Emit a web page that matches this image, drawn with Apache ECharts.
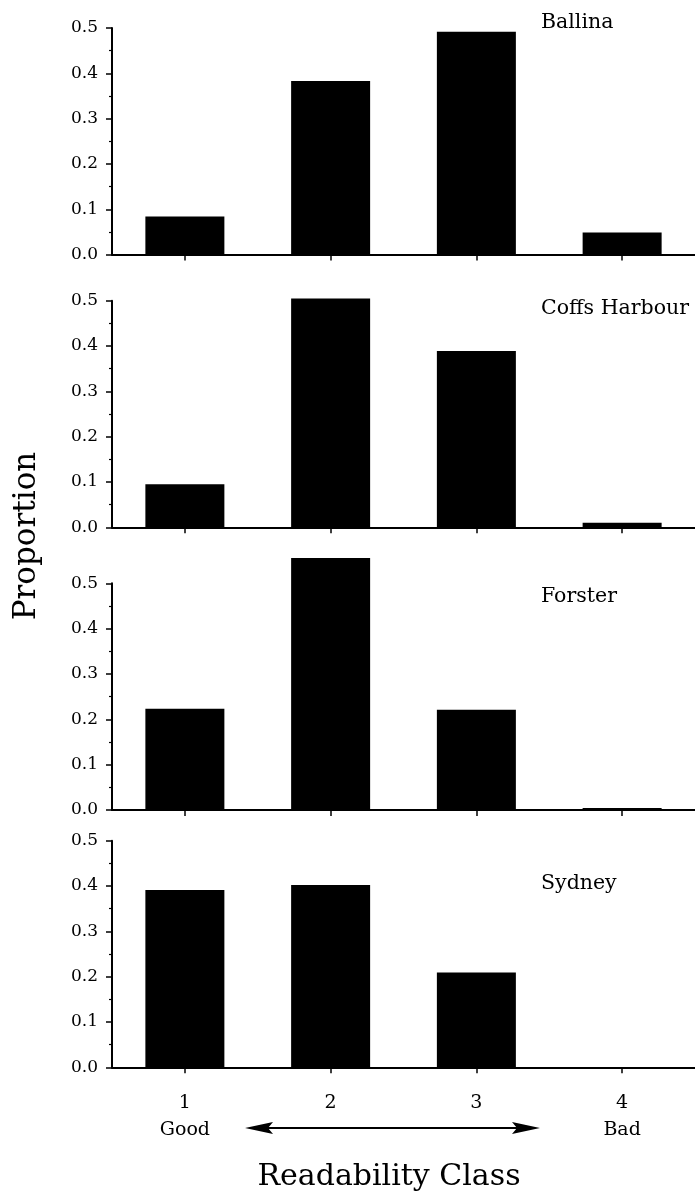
<!DOCTYPE html>
<html>
<head>
<meta charset="utf-8">
<script src="https://cdn.jsdelivr.net/npm/echarts@6/dist/echarts.min.js"></script>
<style>
html,body{margin:0;padding:0;background:#fff;}
#chart{width:695px;height:1193px;}
</style>
</head>
<body>
<div id="chart"></div>
<script>
// ---- data ----
const categories = ['1', '2', '3', '4'];
const classNames = ['Good', '', '', 'Bad'];
const sites = ['Ballina', 'Coffs Harbour', 'Forster', 'Sydney'];
const ballina = [0.084, 0.383, 0.492, 0.049];
const coffsHarbour = [0.095, 0.505, 0.389, 0.010];
const forster = [0.223, 0.556, 0.221, 0.004];
const sydney = [0.391, 0.402, 0.209, 0.0];
const yMin = 0.0, yMax = 0.5, yStep = 0.1;
const yAxisTitle = 'Proportion';
const xAxisTitle = 'Readability Class';

const seriesValues = [ballina, coffsHarbour, forster, sydney];

// ---- layout ----
const FONT = '"DejaVu Serif", "Liberation Serif", serif';
const gridLeft = 112, gridWidth = 587, gridHeight = 226.6;
const gridTops = [28, 300.7, 583.3, 840.7];
const titleTops = [12.5, 298.5, 586.5, 873.5];

const grids = [], xAxes = [], yAxes = [], series = [], titles = [];
for (let i = 0; i < 4; i++) {
  const last = i === 3;
  grids.push({ left: gridLeft, top: gridTops[i], width: gridWidth, height: gridHeight, containLabel: false });
  xAxes.push({
    type: 'category', gridIndex: i, data: categories, boundaryGap: true,
    axisLine: { show: true, onZero: false, lineStyle: { color: '#000', width: 2 } },
    axisTick: { show: true, alignWithLabel: true, inside: false, length: 6, lineStyle: { color: '#000', width: 1.5 } },
    axisLabel: last ? {
      show: true, margin: 22, interval: 0,
      formatter: function (v, idx) { return '{n|' + v + '}\n{s|' + (classNames[idx] || ' ') + '}'; },
      rich: {
        n: { fontFamily: FONT, fontSize: 19, color: '#000', lineHeight: 27, align: 'center' },
        s: { fontFamily: FONT, fontSize: 19, color: '#000', lineHeight: 27, align: 'center' }
      }
    } : { show: false },
    splitLine: { show: false }
  });
  yAxes.push({
    type: 'value', gridIndex: i, min: yMin, max: yMax, interval: yStep,
    axisLine: { show: true, lineStyle: { color: '#000', width: 2 } },
    axisTick: { show: true, inside: false, length: 6, lineStyle: { color: '#000', width: 1.5 } },
    minorTick: { show: true, splitNumber: 2, length: 3, lineStyle: { color: '#000', width: 1.2 } },
    axisLabel: { show: true, margin: 14, fontFamily: FONT, fontSize: 17, color: '#000',
      formatter: function (v) { return v.toFixed(1); } },
    splitLine: { show: false }
  });
  series.push({
    type: 'bar', xAxisIndex: i, yAxisIndex: i, data: seriesValues[i],
    barWidth: 79, clip: false, itemStyle: { color: '#000' }, silent: true
  });
  titles.push({
    text: sites[i], left: 541, top: titleTops[i], padding: 0,
    textStyle: { fontFamily: FONT, fontSize: 20.5, fontWeight: 'normal', color: '#000' }
  });
}

const option = {
  backgroundColor: '#fff',
  animation: false,
  title: titles,
  grid: grids,
  xAxis: xAxes,
  yAxis: yAxes,
  series: series,
  graphic: [
    { type: 'text', x: 27, y: 536, rotation: Math.PI / 2,
      style: { text: yAxisTitle, fontFamily: FONT, fontSize: 31, fill: '#000', align: 'center', verticalAlign: 'middle' } },
    { type: 'text', x: 389, y: 1177,
      style: { text: xAxisTitle, fontFamily: FONT, fontSize: 30, fill: '#000', align: 'center', verticalAlign: 'middle' } },
    { type: 'line', shape: { x1: 262, y1: 1128, x2: 525, y2: 1128 }, style: { stroke: '#000', lineWidth: 1.8 } },
    { type: 'polygon', shape: { points: [[245, 1128], [273, 1122], [268, 1128], [273, 1134]] }, style: { fill: '#000' } },
    { type: 'polygon', shape: { points: [[540, 1128], [512, 1122], [517, 1128], [512, 1134]] }, style: { fill: '#000' } }
  ]
};

const chart = echarts.init(document.getElementById('chart'), null, { renderer: 'canvas' });
chart.setOption(option);
</script>
</body>
</html>
